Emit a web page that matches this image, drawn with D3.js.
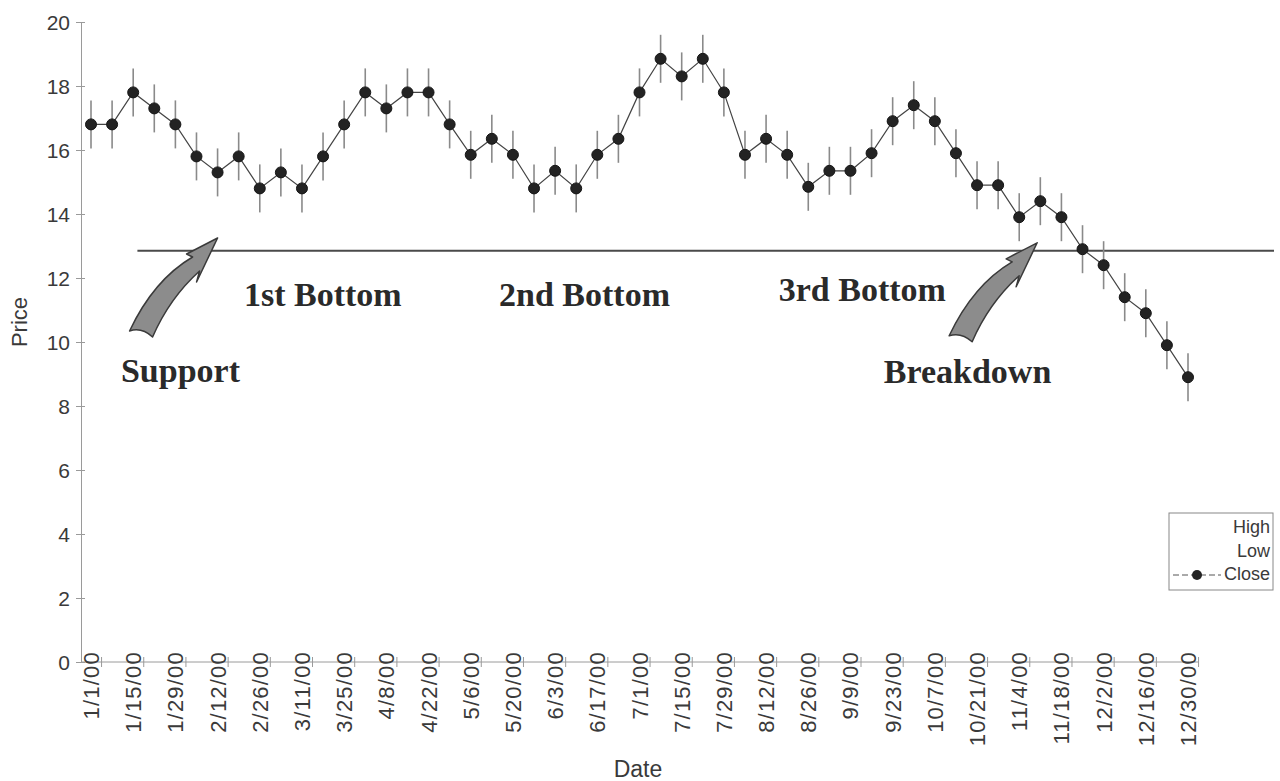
<!DOCTYPE html>
<html>
<head>
<meta charset="utf-8">
<script src="https://cdn.jsdelivr.net/npm/d3@7/dist/d3.min.js"></script>
<style>
  html, body { margin: 0; padding: 0; background: #fff; }
  svg { display: block; }
</style>
</head>
<body>
<svg id="chart" width="1280" height="781"></svg>
<script>
// Weekly dates (categories)
const dates = [
  "1/1/00","1/8/00","1/15/00","1/22/00","1/29/00","2/5/00","2/12/00","2/19/00","2/26/00",
  "3/4/00","3/11/00","3/18/00","3/25/00","4/1/00","4/8/00","4/15/00","4/22/00","4/29/00",
  "5/6/00","5/13/00","5/20/00","5/27/00","6/3/00","6/10/00","6/17/00","6/24/00",
  "7/1/00","7/8/00","7/15/00","7/22/00","7/29/00","8/5/00","8/12/00","8/19/00","8/26/00",
  "9/2/00","9/9/00","9/16/00","9/23/00","9/30/00","10/7/00","10/14/00","10/21/00","10/28/00",
  "11/4/00","11/11/00","11/18/00","11/25/00","12/2/00","12/9/00","12/16/00","12/23/00","12/30/00"
];

// Closing prices
const close = [
  16.8, 16.8, 17.8, 17.3, 16.8, 15.8, 15.3, 15.8, 14.8, 15.3, 14.8, 15.8, 16.8, 17.8, 17.3, 17.8, 17.8, 16.8,
  15.85, 16.35, 15.85, 14.8, 15.35, 14.8, 15.85, 16.35, 17.8, 18.85, 18.3, 18.85, 17.8, 15.85, 16.35, 15.85,
  14.85, 15.35, 15.35, 15.9, 16.9, 17.4, 16.9, 15.9, 14.9, 14.9, 13.9, 14.4, 13.9, 12.9, 12.4, 11.4, 10.9, 9.9, 8.9
];

// Weekly highs
const high = [
  17.55, 17.55, 18.55, 18.05, 17.55, 16.55, 16.05, 16.55, 15.55, 16.05, 15.55, 16.55, 17.55, 18.55, 18.05, 18.55, 18.55, 17.55,
  16.6, 17.1, 16.6, 15.55, 16.1, 15.55, 16.6, 17.1, 18.55, 19.6, 19.05, 19.6, 18.55, 16.6, 17.1, 16.6,
  15.6, 16.1, 16.1, 16.65, 17.65, 18.15, 17.65, 16.65, 15.65, 15.65, 14.65, 15.15, 14.65, 13.65, 13.15, 12.15, 11.65, 10.65, 9.65
];

// Weekly lows
const low = [
  16.05, 16.05, 17.05, 16.55, 16.05, 15.05, 14.55, 15.05, 14.05, 14.55, 14.05, 15.05, 16.05, 17.05, 16.55, 17.05, 17.05, 16.05,
  15.1, 15.6, 15.1, 14.05, 14.6, 14.05, 15.1, 15.6, 17.05, 18.1, 17.55, 18.1, 17.05, 15.1, 15.6, 15.1,
  14.1, 14.6, 14.6, 15.15, 16.15, 16.65, 16.15, 15.15, 14.15, 14.15, 13.15, 13.65, 13.15, 12.15, 11.65, 10.65, 10.15, 9.15, 8.15
];

// Axis ticks
const yTicks = [0, 2, 4, 6, 8, 10, 12, 14, 16, 18, 20];
const xTickLabels = dates.filter((d, i) => i % 2 === 0);

// Support level and notes
const supportLevel = 12.85;
const notes = [
  { text: "Support",    week: 1.42,  price: 8.75 },
  { text: "1st Bottom", week: 7.25,  price: 11.12 },
  { text: "2nd Bottom", week: 19.34, price: 11.12 },
  { text: "3rd Bottom", week: 32.6,  price: 11.28 },
  { text: "Breakdown",  week: 37.58, price: 8.72 }
];
const arrowTips = [
  { week: 6.0,  price: 13.25 },
  { week: 44.85, price: 13.1 }
];

const svg = d3.select("#chart");
const x = d3.scaleLinear().domain([0, dates.length - 1]).range([91, 1188]);
const y = d3.scaleLinear().domain([0, 20]).range([662, 22]);
const axisColor = "#9a9a9a";
const textColor = "#3a3a3a";

// Y axis
const yAxis = svg.append("g").attr("transform", "translate(81,0)")
  .call(d3.axisLeft(y).tickValues(yTicks).tickSize(5).tickPadding(6));
yAxis.select(".domain").attr("stroke", axisColor);
yAxis.selectAll(".tick line").attr("stroke", axisColor).attr("x2", 4).attr("x1", -5);
yAxis.selectAll(".tick text")
  .attr("fill", textColor)
  .style("font-family", "'Liberation Sans', Arial, sans-serif")
  .style("font-size", "21px")
  .attr("dy", "0.35em");

// X axis line and ticks
const xAxis = svg.append("g");
xAxis.append("line")
  .attr("x1", 81).attr("x2", x(dates.length - 1) + 10)
  .attr("y1", y(0)).attr("y2", y(0))
  .attr("stroke", axisColor);
xAxis.selectAll("line.tk")
  .data(xTickLabels)
  .join("line")
  .attr("class", "tk")
  .attr("x1", (d) => x(dates.indexOf(d) + 0.5))
  .attr("x2", (d) => x(dates.indexOf(d) + 0.5))
  .attr("y1", y(0) - 5).attr("y2", y(0) + 5)
  .attr("stroke", axisColor);
xAxis.selectAll("text")
  .data(xTickLabels)
  .join("text")
  .attr("transform", (d) => `translate(${x(dates.indexOf(d)) + 8},651) rotate(-90)`)
  .attr("text-anchor", "end")
  .attr("fill", textColor)
  .style("font-family", "'Liberation Sans', Arial, sans-serif")
  .style("font-size", "22px")
  .style("letter-spacing", "1.2px")
  .text((d) => d);

// Axis titles
svg.append("text")
  .attr("x", 638).attr("y", 777)
  .attr("text-anchor", "middle")
  .attr("fill", textColor)
  .style("font-family", "'Liberation Sans', Arial, sans-serif")
  .style("font-size", "23px")
  .text("Date");
svg.append("text")
  .attr("transform", "translate(27,322) rotate(-90)")
  .attr("text-anchor", "middle")
  .attr("fill", textColor)
  .style("font-family", "'Liberation Sans', Arial, sans-serif")
  .style("font-size", "22px")
  .text("Price");

// Support line
svg.append("line")
  .attr("x1", x(2.2)).attr("x2", 1274)
  .attr("y1", y(supportLevel)).attr("y2", y(supportLevel))
  .attr("stroke", "#4a4a4a").attr("stroke-width", 2);

// High-low bars
svg.append("g").selectAll("line")
  .data(dates)
  .join("line")
  .attr("x1", (d, i) => x(i)).attr("x2", (d, i) => x(i))
  .attr("y1", (d, i) => y(high[i])).attr("y2", (d, i) => y(low[i]))
  .attr("stroke", "#8a8a8a").attr("stroke-width", 1.6);

// Close line and markers
svg.append("path")
  .datum(close)
  .attr("d", d3.line().x((d, i) => x(i)).y((d) => y(d)))
  .attr("fill", "none")
  .attr("stroke", "#444").attr("stroke-width", 1.2);
svg.append("g").selectAll("circle")
  .data(close)
  .join("circle")
  .attr("cx", (d, i) => x(i)).attr("cy", (d) => y(d))
  .attr("r", 5.5)
  .attr("fill", "#232323").attr("stroke", "#151515");

// Curved arrows (shape relative to the tip)
const arrowShape = "M0,0 L-31,16 L-25,19 Q-64,42 -88,93 Q-76,89 -65,99 Q-48,60 -18,33 L-21,44 Z";
svg.append("g").selectAll("path")
  .data(arrowTips)
  .join("path")
  .attr("transform", (d) => `translate(${x(d.week)},${y(d.price)})`)
  .attr("d", arrowShape)
  .attr("fill", "#8c8c8c")
  .attr("stroke", "#3a3a3a").attr("stroke-width", 1.5)
  .attr("stroke-linejoin", "round");

// Notes
svg.append("g").selectAll("text")
  .data(notes)
  .join("text")
  .attr("x", (d) => x(d.week)).attr("y", (d) => y(d.price))
  .attr("fill", "#2a2a2a")
  .style("font-family", "'Liberation Serif', 'Times New Roman', serif")
  .style("font-weight", "bold")
  .style("font-size", "34px")
  .text((d) => d.text);

// Legend
const lg = svg.append("g");
lg.append("rect")
  .attr("x", 1169).attr("y", 513).attr("width", 104).attr("height", 77)
  .attr("fill", "#fff").attr("stroke", "#888");
const legendItems = ["High", "Low", "Close"];
lg.selectAll("text")
  .data(legendItems)
  .join("text")
  .attr("x", 1270).attr("y", (d, i) => 533 + i * 23.5)
  .attr("text-anchor", "end")
  .attr("fill", textColor)
  .style("font-family", "'Liberation Sans', Arial, sans-serif")
  .style("font-size", "18px")
  .text((d) => d);
lg.append("line")
  .attr("x1", 1173).attr("x2", 1221).attr("y1", 575).attr("y2", 575)
  .attr("stroke", "#555").attr("stroke-width", 1).attr("stroke-dasharray", "6,3");
lg.append("circle")
  .attr("cx", 1197).attr("cy", 575).attr("r", 5)
  .attr("fill", "#232323");
</script>
</body>
</html>
